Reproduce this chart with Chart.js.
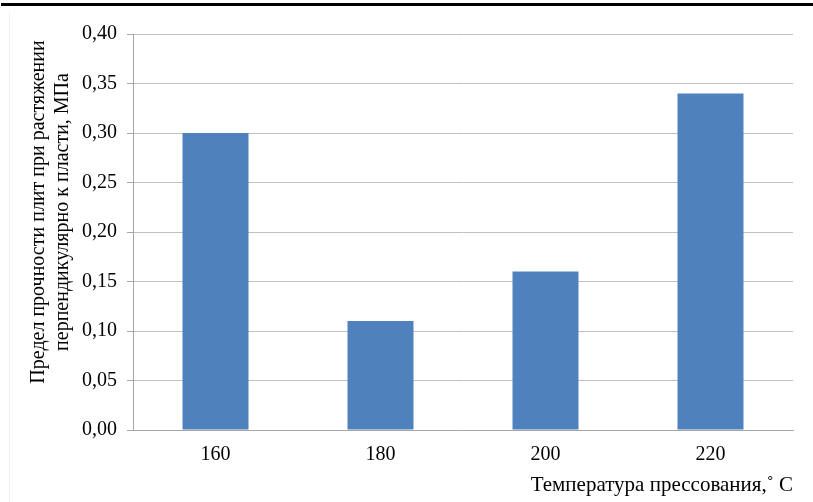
<!DOCTYPE html>
<html>
<head>
<meta charset="utf-8">
<script src="https://cdn.jsdelivr.net/npm/chart.js@4.4.1/dist/chart.umd.min.js"></script>
<style>
  html, body { margin: 0; padding: 0; background: #fff; }
  #wrap { width: 813px; height: 502px; position: relative; }
</style>
</head>
<body>
<div id="wrap"><canvas id="chart" width="813" height="502"></canvas></div>
<script>
const categories = ['160', '180', '200', '220']
const strength = [0.30, 0.11, 0.16, 0.34]
const yTitleLines = ['Предел прочности плит при растяжении', 'перпендикулярно к пласти, МПа']
const xTitle = 'Температура прессования,˚ С'

const serif = "'Liberation Serif', 'DejaVu Serif', serif"

// top rule + rotated y title (placed like in the original)
const decor = {
  id: 'decor',
  beforeDraw(chart) {
    const ctx = chart.ctx
    ctx.save()
    ctx.fillStyle = '#000'
    ctx.fillRect(1, 3, 812, 3)
    ctx.strokeStyle = '#f2f2f2'
    ctx.lineWidth = 1
    ctx.beginPath()
    ctx.moveTo(9.5, 12)
    ctx.lineTo(9.5, 502)
    ctx.stroke()
    ctx.restore()
  },
  afterDraw(chart) {
    const ctx = chart.ctx
    ctx.save()
    ctx.translate(51, 212)
    ctx.rotate(-Math.PI / 2)
    ctx.fillStyle = '#000'
    ctx.font = '20px ' + serif
    ctx.textAlign = 'center'
    ctx.textBaseline = 'middle'
    ctx.fillText(yTitleLines[0], 0, -12)
    ctx.fillText(yTitleLines[1], 0, 12)
    ctx.restore()
  }
}

new Chart(document.getElementById('chart'), {
  type: 'bar',
  data: {
    labels: categories,
    datasets: [{
      data: strength,
      backgroundColor: '#4f81bd',
      categoryPercentage: 0.4,
      barPercentage: 1.0
    }]
  },
  plugins: [decor],
  options: {
    responsive: false,
    animation: false,
    layout: { padding: { top: 34, right: 20, left: 0, bottom: 0 } },
    plugins: { legend: { display: false }, tooltip: { enabled: false } },
    scales: {
      x: {
        grid: { display: false },
        border: { color: '#a6a6a6', width: 1 },
        ticks: { color: '#000', font: { family: serif, size: 20 }, padding: 5 },
        title: {
          display: true, text: xTitle, align: 'end', color: '#000',
          font: { family: serif, size: 21 }, padding: { top: 2 }
        },
        afterFit(scale) { scale.height = 72 }
      },
      y: {
        min: 0, max: 0.4,
        grid: { color: '#c0c0c0', tickLength: 6, tickColor: '#a6a6a6' },
        border: { color: '#a6a6a6', width: 1 },
        ticks: {
          stepSize: 0.05, color: '#000', padding: 10,
          font: { family: serif, size: 20 },
          callback: v => v.toFixed(2).replace('.', ',')
        },
        afterFit(scale) { scale.width = 133 }
      }
    }
  }
})
</script>
</body>
</html>
